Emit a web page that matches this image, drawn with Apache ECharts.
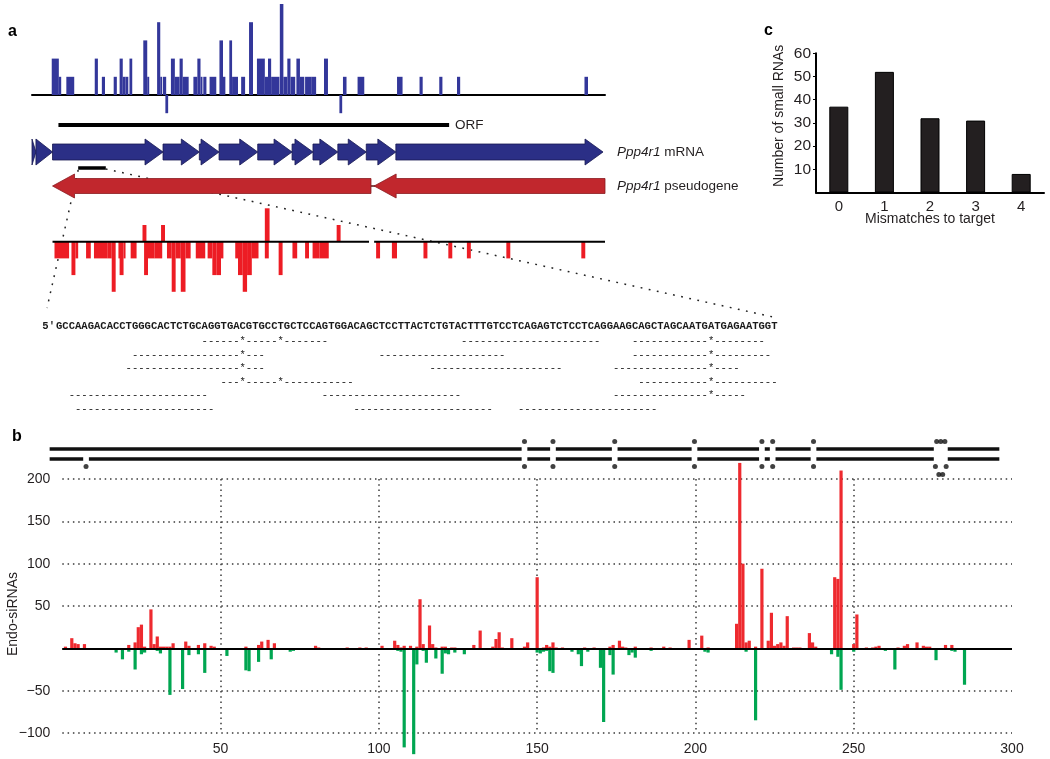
<!DOCTYPE html>
<html><head><meta charset="utf-8">
<script src="https://cdn.jsdelivr.net/npm/echarts@6/dist/echarts.min.js"></script>
<style>html,body{margin:0;padding:0;background:#fff}#c{width:1050px;height:759px}</style>
</head><body><div id="c"></div>
<script>
// ================= DATA =================
// Panel a — positions along the transcript (arbitrary position units), [start, end, count]
const mrnaReads = [[50,68,2],[68,74,1],[87,107,1],[159,167,2],[177,185,1],[207,215,1],[222,230,2],[230,237,1],[237,244,1],[247,254,2],[282,292,3],[292,297,1],[317,325,4],[325,330,1],[332,340,1],[338,345,-1],[352,362,2],[362,374,1],[374,382,2],[382,397,1],[409,419,1],[419,427,2],[427,432,1],[434,442,1],[450,467,1],[475,484,3],[484,490,1],[500,507,3],[507,522,1],[530,540,1],[550,560,4],[570,590,2],[590,598,1],[598,606,2],[606,627,1],[628,637,5],[637,647,1],[647,655,2],[655,667,1],[670,679,2],[679,690,1],[692,709,1],[709,720,1],[740,750,2],[779,786,-1],[788,797,1],[825,842,1],[925,939,1],[982,990,1],[1032,1040,1],[1077,1085,1],[1400,1409,1]];
const pseudoReadsUp = [[280,290,1],[327,337,1],[590,602,2],[772,782,1]];
const pseudoReadsDown = [[57,94,-1],[100,110,-2],[110,117,-1],[137,149,-1],[157,192,-1],[192,202,-1],[202,212,-3],[219,224,-1],[222,232,-2],[232,237,-1],[250,265,-1],[284,294,-2],[294,310,-1],[310,330,-1],[342,354,-1],[354,364,-3],[364,377,-1],[377,389,-3],[389,402,-1],[415,439,-1],[445,457,-1],[457,467,-2],[467,479,-2],[479,485,-1],[515,522,-1],[522,534,-2],[534,545,-3],[545,557,-2],[557,574,-1],[590,600,-1],[625,635,-2],[660,672,-1],[692,702,-1],[711,729,-1],[729,752,-1],[872,882,-1],[912,925,-1],[992,1002,-1],[1055,1065,-1],[1102,1112,-1],[1202,1212,-1],[1392,1402,-1]];
const orfSpan = [[67,1057]];
const mrnaExons = [[0,10],[10,52],[52,332],[332,424],[424,474],[474,572],[572,659],[659,712],[712,775],[775,847],[847,922],[922,1447]];
const pseudoExons = [[52,859],[867,1452]];
const pseudoLink = [[855,870]];
const pseudoBaseline = [[52,854],[867,1452]];
const zoomRegion = [[117,187]];
const transcriptMax = 1452;
const sequence = 'GCCAAGACACCTGGGCACTCTGCAGGTGACGTGCCTGCTCCAGTGGACAGCTCCTTACTCTGTACTTTGTCCTCAGAGTCTCCTCAGGAAGCAGCTAGCAATGATGAGAATGGT';
// aligned small RNAs: [row, startCol, length, mismatchCols]
const alignedReads = [
  [0,23,20,[29,35]],[0,64,22,[]],[0,91,21,[103]],
  [1,12,21,[29]],[1,51,20,[]],[1,91,22,[103]],
  [2,11,22,[29]],[2,59,21,[]],[2,88,20,[103]],
  [3,26,21,[29,35]],[3,92,22,[103]],
  [4,2,22,[]],[4,42,22,[]],[4,88,21,[103]],
  [5,3,22,[]],[5,47,22,[]],[5,73,22,[]]
];
// Panel b — [position, reads]
const senseReads = [[1,2],[3,12],[4,6],[5,5],[7,5],[21,4],[23,7],[24,25],[25,28],[26,2],[28,46],[29,5],[30,14],[31,2],[32,2],[33,2],[34,2],[35,6],[39,8],[40,3],[43,4],[45,6],[47,3],[48,2],[58,2],[62,4],[63,8],[65,10],[67,6],[80,3],[81,1],[90,1],[94,1],[96,1],[101,3],[105,9],[106,4],[107,1],[108,3],[110,3],[112,2],[113,58],[114,5],[116,27],[117,5],[118,1],[120,2],[121,2],[123,1],[124,1],[130,4],[132,21],[136,2],[137,11],[138,19],[139,1],[142,12],[146,2],[147,7],[150,84],[152,1],[153,4],[154,2],[155,7],[156,1],[158,1],[165,1],[168,1],[173,2],[174,4],[176,9],[177,2],[178,1],[181,2],[186,1],[190,2],[192,1],[198,10],[202,15],[204,1],[213,29],[214,219],[215,100],[216,7],[217,9],[219,2],[221,94],[223,9],[224,42],[225,3],[226,5],[227,7],[228,3],[229,38],[231,1],[232,1],[233,1],[236,18],[237,7],[238,2],[244,84],[245,82],[246,210],[250,5],[251,40],[254,1],[256,1],[257,2],[258,3],[264,1],[266,3],[267,5],[270,7],[272,3],[273,2],[274,2],[279,4],[281,4]];
const antisenseReads = [[2,-2],[14,-2],[17,-5],[19,-13],[21,-4],[23,-25],[25,-7],[26,-5],[29,-2],[30,-3],[31,-6],[34,-55],[38,-48],[40,-8],[43,-7],[45,-29],[52,-9],[58,-26],[59,-27],[62,-16],[66,-13],[72,-4],[73,-3],[103,-2],[106,-3],[107,-4],[108,-117],[111,-125],[112,-19],[114,-3],[115,-17],[118,-12],[120,-30],[121,-6],[122,-7],[124,-5],[127,-7],[150,-5],[151,-6],[152,-4],[153,-3],[154,-27],[155,-29],[161,-4],[163,-7],[164,-21],[166,-4],[170,-23],[171,-87],[173,-8],[174,-31],[179,-8],[180,-5],[181,-11],[186,-3],[191,-2],[202,-2],[203,-4],[204,-5],[210,-2],[216,-4],[219,-85],[221,-2],[243,-7],[245,-10],[246,-49],[250,-4],[260,-3],[263,-25],[266,-2],[269,-2],[276,-14],[277,-2],[281,-3],[282,-4],[285,-43]];
const duplexExtent = [-4, 296];
const duplexMismatches = [146,155,174.5,199.7,221,224.4,237.3];
const duplexBottomOnly = [7.5];
const duplexBulge = 277.5;
// Panel c
const mismatchCats = ['0','1','2','3','4'];
const mismatchCounts = [37,52,32,31,8];

// ================= STYLE / LAYOUT =================
const FONT = '"Liberation Sans", Arial, Helvetica, sans-serif';
const MONO = '"Liberation Mono", "DejaVu Sans Mono", monospace';
const TXT = '#231f20';
const A = {left:32, width:573};
const B = {left:62.3, width:949.7};
const gridDefs = [
  {...A, top:4, height:109.2},      // 0 mRNA reads
  {...A, top:120, height:10},       // 1 ORF
  {...A, top:139, height:26},       // 2 mRNA
  {...A, top:163, height:10},       // 3 zoom region bar
  {...A, top:175, height:22},       // 4 pseudogene
  {...A, top:208.3, height:83.5},   // 5 pseudogene reads
  {...B, top:449, height:10},       // 6 duplex
  {...B, top:479, height:254},      // 7 main b
  {left:816, width:228, top:53.3, height:139.2} // 8 c
];
const grid = gridDefs.map(g => Object.assign({containLabel:false, outerBoundsMode:'none'}, g));

const hidden = {show:false};
const xAxis = [], yAxis = [];
for (let i = 0; i < 6; i++) {
  xAxis.push({gridIndex:i, type:'value', min:0, max:transcriptMax, show: i===0,
    axisLine:{show:i===0, onZero:true, lineStyle:{color:'#000', width:2}},
    axisTick:hidden, axisLabel:hidden, splitLine:hidden});
}
yAxis.push({gridIndex:0, type:'value', min:-1, max:5, show:false});
for (let i = 1; i < 5; i++) yAxis.push({gridIndex:i, type:'value', min:-1, max:1, show:false});
yAxis.push({gridIndex:5, type:'value', min:-3, max:2, show:false});
xAxis.push({gridIndex:6, type:'value', min:0, max:300, show:false});
yAxis.push({gridIndex:6, type:'value', min:0, max:1, show:false});
const dotted = {color:'#3a3a3a', width:1.5, type:[1.5,3.8]};
xAxis.push({gridIndex:7, type:'value', min:0, max:300, interval:50,
  axisLine:hidden, axisTick:hidden,
  axisLabel:{showMinLabel:false, color:TXT, fontFamily:FONT, fontSize:14, margin:9},
  splitLine:{show:true, showMinLine:false, showMaxLine:false, lineStyle:dotted}});
yAxis.push({gridIndex:7, type:'value', min:-100, max:200, interval:50,
  axisLine:hidden, axisTick:hidden,
  axisLabel:{color:TXT, fontFamily:FONT, fontSize:14, margin:12,
    formatter: v => v === 0 ? '' : String(v).replace('-', '\u2212')},
  splitLine:{show:true, lineStyle:dotted},
  name:'Endo-siRNAs', nameLocation:'middle', nameGap:42, nameMoveOverlap:false,
  nameTextStyle:{color:TXT, fontFamily:FONT, fontSize:14, padding:[0,16,0,0]}});
xAxis.push({gridIndex:8, type:'category', data:mismatchCats,
  axisLine:{show:true, lineStyle:{color:'#000', width:2}}, axisTick:hidden,
  axisLabel:{color:TXT, fontFamily:FONT, fontSize:15, margin:7},
  name:'Mismatches to target', nameLocation:'middle', nameGap:20, nameMoveOverlap:false,
  nameTextStyle:{color:TXT, fontFamily:FONT, fontSize:14, verticalAlign:'top'}});
yAxis.push({gridIndex:8, type:'value', min:0, max:60, interval:10,
  axisLine:{show:true, lineStyle:{color:'#000', width:2}},
  axisTick:{show:true, length:3, lineStyle:{color:'#000'}},
  axisLabel:{showMinLabel:false, color:TXT, fontFamily:FONT, fontSize:15.5, margin:5},
  splitLine:hidden,
  name:'Number of small RNAs', nameLocation:'middle', nameGap:30, nameMoveOverlap:false,
  nameTextStyle:{color:TXT, fontFamily:FONT, fontSize:14, padding:[0,0,0,14]}});

// ================= RENDERERS =================
function rectItem(params, api) {
  const a = api.coord([api.value(0), api.value(2)]);
  const b = api.coord([api.value(1), 0]);
  return {type:'rect', shape:{x:a[0], y:Math.min(a[1], b[1]), width:b[0]-a[0], height:Math.abs(b[1]-a[1])},
    style:{fill: api.visual('color')}};
}
function segItem(width, color) {
  return function(params, api) {
    const a = api.coord([api.value(0), api.value(2) || 0]);
    const b = api.coord([api.value(1), api.value(2) || 0]);
    return {type:'line', shape:{x1:a[0], y1:a[1], x2:b[0], y2:b[1]}, style:{stroke:color, lineWidth:width}};
  };
}
function arrowItem(dir, bodyH, headH, headL, fill, stroke) {
  return function(params, api) {
    const s = api.coord([api.value(0), 0]), e = api.coord([api.value(1), 0]);
    const y = s[1], x0 = s[0], x1 = e[0];
    const hl = Math.min(headL, x1 - x0);
    let pts;
    if (dir > 0) {
      const xb = x1 - hl;
      pts = [[x0,y-bodyH],[xb,y-bodyH],[xb,y-headH],[x1,y],[xb,y+headH],[xb,y+bodyH],[x0,y+bodyH]];
    } else {
      const xb = x0 + hl;
      pts = [[x1,y-bodyH],[xb,y-bodyH],[xb,y-headH],[x0,y],[xb,y+headH],[xb,y+bodyH],[x1,y+bodyH]];
    }
    return {type:'polygon', shape:{points:pts}, style:{fill:fill, stroke:stroke, lineWidth:0.8}};
  };
}

// duplex strand segments derived from gap positions
function strandSegments(gaps, level) {
  const sorted = gaps.slice().sort((a,b)=>a[0]-b[0]);
  const segs = []; let cur = duplexExtent[0];
  sorted.forEach(g => { segs.push([cur, g[0], level]); cur = g[1]; });
  segs.push([cur, duplexExtent[1], level]);
  return segs;
}
const gapHalf = 0.9;
const topGaps = duplexMismatches.map(p => [p-gapHalf, p+gapHalf]).concat([[duplexBulge-2.2, duplexBulge+2.2]]);
const botGaps = duplexMismatches.concat(duplexBottomOnly).map(p => [p-gapHalf, p+gapHalf]).concat([[duplexBulge-2.2, duplexBulge+2.2]]);
const strands = strandSegments(topGaps, 1).concat(strandSegments(botGaps, 0));
const dots = [];
duplexMismatches.forEach(p => { dots.push([p, 1.75]); dots.push([p, -0.75]); });
duplexBottomOnly.forEach(p => dots.push([p, -0.75]));
[-1.3, 0, 1.3].forEach(d => dots.push([duplexBulge + d, 1.75]));
[-1.7, 1.7].forEach(d => dots.push([duplexBulge + d, -0.75]));
[-0.6, 0.6].forEach(d => dots.push([duplexBulge + d, -1.55]));

const RED = '#ed1c24';
const series = [
  {type:'custom', xAxisIndex:0, yAxisIndex:0, data:mrnaReads, renderItem:rectItem, itemStyle:{color:'#33379a'}, silent:true},
  {type:'custom', xAxisIndex:1, yAxisIndex:1, data:orfSpan, renderItem:segItem(4, '#000'), silent:true},
  {type:'custom', xAxisIndex:2, yAxisIndex:2, data:mrnaExons, renderItem:arrowItem(1, 8, 13, 18, '#2b2f86', '#161852'), silent:true},
  {type:'custom', xAxisIndex:3, yAxisIndex:3, data:zoomRegion, renderItem:segItem(3.5, '#000'), silent:true},
  {type:'custom', xAxisIndex:4, yAxisIndex:4, data:pseudoLink, renderItem:segItem(1.5, '#5a1010'), silent:true},
  {type:'custom', xAxisIndex:4, yAxisIndex:4, data:pseudoExons, renderItem:arrowItem(-1, 7.5, 12, 22, '#c1272d', '#8a1a1f'), silent:true},
  {type:'custom', xAxisIndex:5, yAxisIndex:5, data:pseudoReadsUp, renderItem:rectItem, itemStyle:{color:RED}, silent:true},
  {type:'custom', xAxisIndex:5, yAxisIndex:5, data:pseudoReadsDown, renderItem:rectItem, itemStyle:{color:RED}, silent:true},
  {type:'custom', xAxisIndex:5, yAxisIndex:5, data:pseudoBaseline, renderItem:segItem(2, '#000'), silent:true, z:5},
  {type:'custom', xAxisIndex:6, yAxisIndex:6, data:strands, renderItem:segItem(3.5, '#111'), silent:true, clip:false},
  {type:'scatter', xAxisIndex:6, yAxisIndex:6, data:dots, symbolSize:5, itemStyle:{color:'#111'}, silent:true, clip:false},
  {type:'bar', xAxisIndex:7, yAxisIndex:7, data:senseReads, barWidth:3.2, barGap:'-100%', itemStyle:{color:'#ee2a2f'}, clip:false, silent:true,
    markLine:{silent:true, symbol:['none','none'], label:{show:false}, lineStyle:{color:'#000', width:2, type:'solid'}, data:[{yAxis:0}]}},
  {type:'bar', xAxisIndex:7, yAxisIndex:7, data:antisenseReads, barWidth:3.2, barGap:'-100%', itemStyle:{color:'#00a651'}, clip:false, silent:true},
  {type:'bar', xAxisIndex:8, yAxisIndex:8, data:mismatchCounts, barWidth:19, itemStyle:{color:'#231f20', borderColor:'#000', borderWidth:1}, silent:true}
];

const chart = echarts.init(document.getElementById('c'), null, {renderer:'canvas'});
chart.setOption({animation:false, backgroundColor:'#fff', grid, xAxis, yAxis, series});

// ================= TEXT / ANNOTATIONS =================
const SEQ_X = 56, SEQ_Y = 326, CHAR_W = 6.33, ROW0 = 341.5, ROW_DY = 13.5;
const rows = [];
alignedReads.forEach(r => {
  const [row, start, len, mm] = r;
  if (!rows[row]) rows[row] = [];
  const arr = rows[row];
  for (let c = 0; c < start + len; c++) if (arr[c] === undefined) arr[c] = ' ';
  for (let c = start; c < start + len; c++) arr[c] = mm.includes(c) ? '*' : '-';
});
const monoStyle = {fontFamily:MONO, fontSize:10.55, fontWeight:'bold', fill:'#1a1a1a', verticalAlign:'middle'};
const graphic = [
  {type:'text', x:8, y:32, style:{text:'a', fontFamily:FONT, fontWeight:'bold', fontSize:16, fill:'#000', verticalAlign:'middle'}},
  {type:'text', x:12, y:437, style:{text:'b', fontFamily:FONT, fontWeight:'bold', fontSize:16, fill:'#000', verticalAlign:'middle'}},
  {type:'text', x:764, y:31, style:{text:'c', fontFamily:FONT, fontWeight:'bold', fontSize:16, fill:'#000', verticalAlign:'middle'}},
  {type:'text', x:455, y:125, style:{text:'ORF', fontFamily:FONT, fontSize:13.5, fill:TXT, verticalAlign:'middle'}},
  {type:'text', x:617, y:152, style:{text:'{i|Ppp4r1} mRNA', fontFamily:FONT, fontSize:13.5, fill:TXT, verticalAlign:'middle',
    rich:{i:{fontStyle:'italic', fontFamily:FONT, fontSize:13.5, fill:TXT}}}},
  {type:'text', x:617, y:186, style:{text:'{i|Ppp4r1} pseudogene', fontFamily:FONT, fontSize:13.5, fill:TXT, verticalAlign:'middle',
    rich:{i:{fontStyle:'italic', fontFamily:FONT, fontSize:13.5, fill:TXT}}}},
  {type:'text', x:SEQ_X - 1, y:SEQ_Y, style:Object.assign({text:'5\u2032', align:'right'}, monoStyle)},
  {type:'text', x:SEQ_X, y:SEQ_Y, style:Object.assign({text:sequence}, monoStyle)}
];
rows.forEach((arr, i) => {
  graphic.push({type:'text', x:SEQ_X, y:ROW0 + i*ROW_DY, style:Object.assign({text:arr.join('')}, monoStyle, {fontWeight:'normal', fill:'#222'})});
});
// zoom lines from region ends to sequence ends
const zl = chart.convertToPixel({gridIndex:3}, [zoomRegion[0][0], 0]);
const zr = chart.convertToPixel({gridIndex:3}, [zoomRegion[0][1], 0]);
const seqEnd = SEQ_X + CHAR_W * sequence.length;
const dashStyle = {stroke:'#222', lineWidth:1.5, lineDash:[1.8,6.5]};
graphic.push({type:'line', shape:{x1:zl[0], y1:zl[1]+2, x2:SEQ_X - 9, y2:SEQ_Y - 18}, style:dashStyle});
graphic.push({type:'line', shape:{x1:zr[0], y1:zr[1]+1, x2:seqEnd, y2:SEQ_Y - 8}, style:dashStyle});
chart.setOption({graphic});
</script></body></html>
